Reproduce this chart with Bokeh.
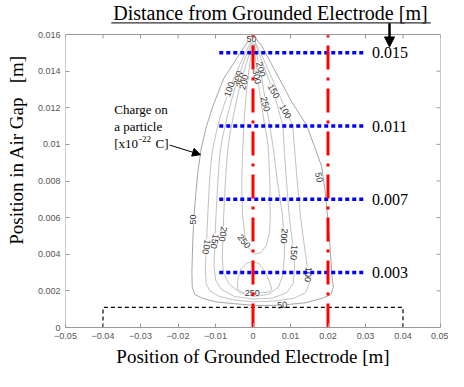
from bokeh.plotting import figure
from bokeh.models import Label, Arrow, NormalHead, FixedTicker, Range1d
from bokeh.embed import file_html
from bokeh.resources import INLINE
from bokeh.core.properties import value

# ---------------- data ----------------
x_ticks = [-0.05, -0.04, -0.03, -0.02, -0.01, 0.0, 0.01, 0.02, 0.03, 0.04, 0.05]
x_tick_labels = ["\u22120.05", "\u22120.04", "\u22120.03", "\u22120.02", "\u22120.01", "0",
                 "0.01", "0.02", "0.03", "0.04", "0.05"]
y_ticks = [0.0, 0.002, 0.004, 0.006, 0.008, 0.01, 0.012, 0.014, 0.016]
y_tick_labels = ["0", "0.002", "0.004", "0.006", "0.008", "0.01", "0.012", "0.014", "0.016"]
x_lim = [-0.05, 0.05]
y_lim = [0.0, 0.016]

# electrode positions (red dash-dot) and gap positions (blue dotted)
electrode_x = [0.0, 0.02]
gap_y = [0.015, 0.011, 0.007, 0.003]
gap_labels = ["0.015", "0.011", "0.007", "0.003"]
gap_x_start = -0.009
gap_x_end = 0.0295

# grounded electrode outline (dashed)
ground_x = [-0.04, -0.04, 0.04, 0.04]
ground_y = [0.0, 0.0011, 0.0011, 0.0]

# contour lines of charge on a particle [x10^-22 C]
c50_x = [-0.0005, -0.0040, -0.0078, -0.0105, -0.0124, -0.0138, -0.0147, -0.0153, -0.0158, -0.0161,
         -0.0163, -0.0162, -0.0155, -0.0135, -0.0100, -0.0050, 0.0010, 0.0075, 0.0140, 0.0185,
         0.0208, 0.0214, 0.0210, 0.0205, 0.0199, 0.0192, 0.0183, 0.0162, 0.0144, 0.0101,
         0.0062, 0.0023, 0.0003]
c50_y = [0.0159, 0.0148, 0.0136, 0.0122, 0.0110, 0.0098, 0.0085, 0.0072, 0.0059, 0.0045,
         0.0030, 0.0022, 0.0018, 0.0016, 0.0014, 0.0013, 0.0012, 0.00122, 0.00135, 0.0016,
         0.0018, 0.0022, 0.0030, 0.0045, 0.0060, 0.0075, 0.0088, 0.0100, 0.0110, 0.0124,
         0.0139, 0.0154, 0.0159]

c100_x = [-0.0003, -0.0030, -0.0063, -0.0088, -0.0103, -0.0110, -0.0116, -0.0121, -0.0124, -0.0127,
          -0.0125, -0.0115, -0.0090, -0.0050, 0.0000, 0.0060, 0.0110, 0.0140, 0.0150, 0.0147,
          0.0140, 0.0132, 0.0127, 0.0120, 0.0113, 0.0106, 0.0085, 0.0055, 0.0025, 0.0003]
c100_y = [0.0157, 0.0146, 0.0130, 0.0115, 0.0102, 0.0094, 0.0080, 0.0060, 0.0046, 0.0032,
          0.0024, 0.0020, 0.0017, 0.0015, 0.0014, 0.00145, 0.0016, 0.0019, 0.0024, 0.0030,
          0.0040, 0.0052, 0.0060, 0.0075, 0.0092, 0.0110, 0.0120, 0.0134, 0.0148, 0.0157]

c150_x = [-0.0002, -0.0025, -0.0048, -0.0068, -0.0082, -0.0089, -0.0095, -0.0099, -0.0102, -0.0104,
          -0.0100, -0.0085, -0.0050, 0.0000, 0.0050, 0.0090, 0.0107, 0.0111, 0.0109, 0.0103,
          0.0097, 0.0090, 0.0084, 0.0080, 0.0065, 0.0054, 0.0030, 0.0004]
c150_y = [0.0156, 0.0145, 0.0131, 0.0116, 0.0103, 0.0094, 0.0075, 0.0060, 0.0046, 0.0034,
          0.0026, 0.0021, 0.0017, 0.00155, 0.0016, 0.0019, 0.0024, 0.0032, 0.0041, 0.0050,
          0.0060, 0.0078, 0.0095, 0.0110, 0.0121, 0.0129, 0.0142, 0.0156]

c200_x = [-0.0001, -0.0018, -0.0035, -0.0050, -0.0062, -0.0069, -0.0074, -0.0078, -0.0080, -0.0082,
          -0.0079, -0.0065, -0.0035, 0.0000, 0.0040, 0.0068, 0.0080, 0.0084, 0.0083, 0.0078,
          0.0065, 0.0054, 0.0045, 0.0033, 0.0020, 0.0003]
c200_y = [0.0155, 0.0144, 0.0132, 0.0118, 0.0105, 0.0094, 0.0078, 0.0062, 0.0050, 0.0038,
          0.0030, 0.0024, 0.0019, 0.0017, 0.0018, 0.0022, 0.0029, 0.0040, 0.0050, 0.0062,
          0.0080, 0.0098, 0.0110, 0.0124, 0.0140, 0.0155]

c250_top_x = [0.0000, -0.0010, -0.0018, -0.0024, -0.0028, -0.0030, -0.0028, -0.0022, -0.0010, 0.0005,
              0.0022, 0.0036, 0.0044, 0.0046, 0.0045, 0.0040, 0.0030, 0.0020, 0.0010, 0.0002]
c250_top_y = [0.0155, 0.0142, 0.0128, 0.0112, 0.0095, 0.0078, 0.0062, 0.0050, 0.0043, 0.0040,
              0.0041, 0.0045, 0.0052, 0.0060, 0.0080, 0.0100, 0.0112, 0.0125, 0.0140, 0.0155]

c250_low_x = [-0.0042, -0.0040, -0.0032, -0.0018, 0.0000, 0.0016, 0.0030, 0.0042, 0.0050, 0.0045,
              0.0025, 0.0000, -0.0025, -0.0042]
c250_low_y = [0.0021, 0.0027, 0.0032, 0.0035, 0.0036, 0.0035, 0.0031, 0.0026, 0.0021, 0.00195,
              0.0019, 0.0019, 0.0019, 0.0021]

inner_xs = [c100_x, c150_x, c200_x, c250_top_x, c250_low_x]
inner_ys = [c100_y, c150_y, c200_y, c250_top_y, c250_low_y]

# contour labels: text, x, y, angle (deg)
clabel_text = ["50", "100", "300", "250", "200", "200", "300", "150", "250", "100", "50",
               "50", "100", "150", "200", "250", "200", "150", "100", "250", "50"]
clabel_x = [-0.0004, -0.0063, -0.0040, -0.0032, -0.0024, 0.0021, 0.0010, 0.0055, 0.0033, 0.0086, 0.0176,
            -0.0160, -0.0124, -0.0102, -0.0080, -0.0024, 0.0083, 0.0109, 0.0147, -0.0002, 0.0078]
clabel_y = [0.01575, 0.0130, 0.0136, 0.0135, 0.0134, 0.0141, 0.0137, 0.0129, 0.0122, 0.0118, 0.0082,
            0.0059, 0.0044, 0.0047, 0.0051, 0.0047, 0.0050, 0.0041, 0.0029, 0.0019, 0.00123]
clabel_angle = [0, 70, 75, 75, 75, -75, -80, -60, -75, -60, -78,
                90, -100, -100, -100, -50, -95, -95, -95, 0, 5]

# ---------------- layout (pixels on the canvas) ----------------
W, H = 448, 371
FRAME_L, FRAME_R = 65, 440      # box left / right
BOX_T, FRAME_B = 34, 327        # box top / bottom
px_x = (FRAME_R - FRAME_L) / (x_lim[1] - x_lim[0])
px_y = (FRAME_B - BOX_T) / (y_lim[1] - y_lim[0])
y_top = y_lim[1] + BOX_T / px_y   # frame extends to canvas top so the title can be drawn

p = figure(width=W, height=H, output_backend="svg", toolbar_location=None,
           x_range=Range1d(x_lim[0], x_lim[1]), y_range=Range1d(y_lim[0], y_top),
           min_border_left=FRAME_L, min_border_right=W - FRAME_R,
           min_border_top=0, min_border_bottom=H - FRAME_B)
p.grid.visible = False
p.outline_line_color = None
p.background_fill_color = "white"

serif = "Liberation Serif"
sans = "Liberation Sans"
frame_col = "#9a9a9a"

for ax, ticks, labels in ((p.xaxis[0], x_ticks, x_tick_labels), (p.yaxis[0], y_ticks, y_tick_labels)):
    ax.ticker = FixedTicker(ticks=ticks)
    ax.major_label_overrides = dict(zip(ticks, labels))
    ax.major_tick_in = 4
    ax.major_tick_out = 0
    ax.minor_tick_line_color = None
    ax.axis_line_color = frame_col
    ax.major_tick_line_color = frame_col
    ax.major_label_text_font = sans
    ax.major_label_text_font_size = "9px"
    ax.major_label_text_color = "#555555"
    ax.major_label_standoff = 5
    ax.axis_label_text_font = serif
    ax.axis_label_text_font_size = "19px"
    ax.axis_label_text_font_style = "normal"
    ax.axis_label_text_color = "black"
    ax.axis_label_standoff = 4
p.yaxis.axis_line_color = None
p.yaxis.axis_label_standoff = 8

p.xaxis.axis_label = "Position of Grounded Electrode [m]"
p.yaxis.axis_label = "\u00a0" * 6 + "Position in Air Gap\u00a0\u00a0\u00a0[m]"

# contours
p.multi_line(xs=inner_xs, ys=inner_ys, line_color="#c2c2c2", line_width=1)
p.line(c50_x, c50_y, line_color="#a6a6a6", line_width=1)
p.text(x=clabel_x, y=clabel_y, text=clabel_text, angle=clabel_angle, angle_units="deg",
       text_font=value(sans), text_font_size="9px", text_color="#333333",
       text_align="center", text_baseline="middle",
       background_fill_color="white")

# grounded electrode
p.line(ground_x, ground_y, line_color="black", line_width=1.2, line_dash="4 3")

# blue dotted lines
for gy in gap_y:
    p.line([gap_x_start, gap_x_end], [gy, gy], line_color="#0000ff", line_width=3.5, line_dash="4 3")
# red dash-dot lines
for ex in electrode_x:
    p.line([ex, ex], y_lim, line_color="#ff0000", line_width=3, line_dash="24 8 3 8")

p.text(x=[0.0317] * len(gap_y), y=gap_y, text=gap_labels, text_font=value(serif),
       text_font_size="16px", text_color="black", text_align="left", text_baseline="middle")

# annotation
p.text(x=[-0.0370, -0.0370, -0.0370], y=[0.01189, 0.01095, 0.01006],
       text=["Charge on", "a particle", "[x10"], text_font=value(serif), text_font_size="13px",
       text_color="black", text_align="left", text_baseline="middle")
p.text(x=[-0.0304], y=[0.01030], text=["-22"], text_font=value(serif), text_font_size="9px",
       text_color="black", text_align="left", text_baseline="middle")
p.text(x=[-0.0260], y=[0.01006], text=["C]"], text_font=value(serif), text_font_size="13px",
       text_color="black", text_align="left", text_baseline="middle")
p.add_layout(Arrow(x_start=-0.0222, y_start=0.00996, x_end=-0.0140, y_end=0.00944,
                   line_color="black", line_width=1,
                   end=NormalHead(size=8, fill_color="black", line_color="black")))

# box: top and right edges, plus inward ticks there
p.line([x_lim[0], x_lim[0], x_lim[1], x_lim[1]], [y_lim[0], y_lim[1], y_lim[1], y_lim[0]],
       line_color=frame_col, line_width=1)
p.segment(x0=x_ticks, y0=[y_lim[1]] * len(x_ticks), x1=x_ticks,
          y1=[y_lim[1] - 4 / px_y] * len(x_ticks), line_color=frame_col, line_width=1)
p.segment(x0=[x_lim[1]] * len(y_ticks), y0=y_ticks, x1=[x_lim[1] - 4 / px_x] * len(y_ticks),
          y1=y_ticks, line_color=frame_col, line_width=1)

# title above the box, underlined, with arrow down
p.add_layout(Label(x=0.00465, y=0.01717, text="Distance from Grounded Electrode [m]",
                   text_font=serif, text_font_size="20px", text_color="black",
                   text_align="center", text_baseline="middle"))
p.add_layout(Arrow(x_start=-0.0378, y_start=0.01664, x_end=0.0474, y_end=0.01664,
                   line_color="#333333", line_width=1.2, end=None))
p.add_layout(Arrow(x_start=0.0364, y_start=0.01662, x_end=0.0364, y_end=0.01532,
                   line_color="black", line_width=2.5,
                   end=NormalHead(size=10, fill_color="black", line_color="black")))

open("out.html", "w").write(file_html(p, INLINE))
